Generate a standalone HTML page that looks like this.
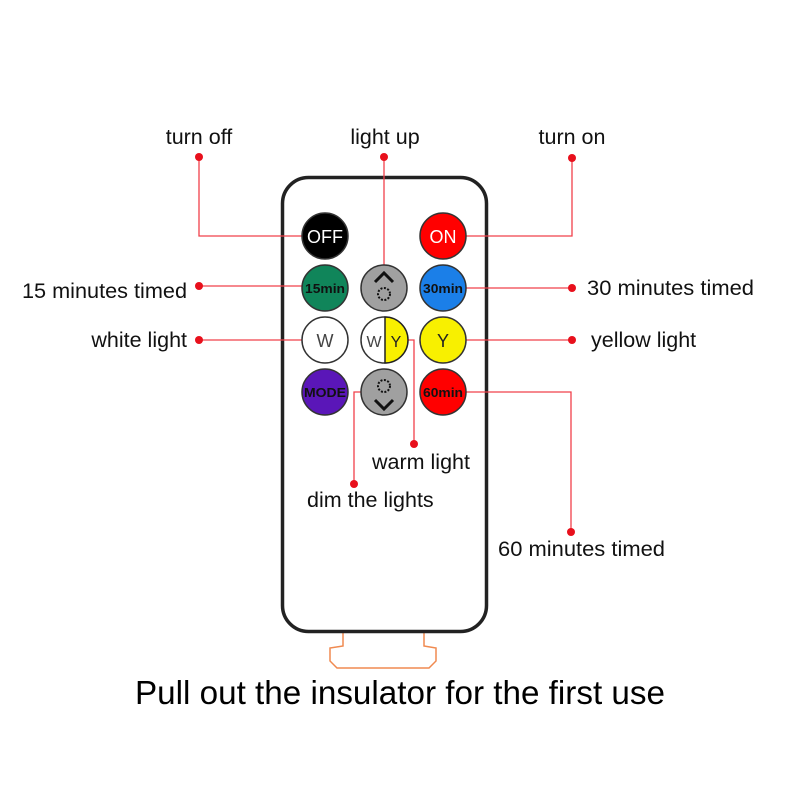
<!DOCTYPE html>
<html><head><meta charset="utf-8"><style>html,body{margin:0;padding:0;background:#fff}svg{display:block}</style></head>
<body>
<svg width="800" height="800" viewBox="0 0 800 800" xmlns="http://www.w3.org/2000/svg" font-family="Liberation Sans, sans-serif">
<rect width="800" height="800" fill="#fff"/>
<!-- insulator -->
<path d="M343,632 L343,646 L330,648 L330,661 L337,668 L429,668 L436,661 L436,648 L424,646 L424,632" fill="none" stroke="#f08a50" stroke-width="1.5"/>
<!-- remote -->
<rect x="282.5" y="177.5" width="204" height="454" rx="26" fill="#fff" stroke="#222" stroke-width="3.5"/>
<!-- connectors -->
<g stroke="#f0404a" stroke-width="1.3" fill="none">
<path d="M199,157 V236 H302"/>
<path d="M384,157 V265"/>
<path d="M572,158 V236 H466"/>
<path d="M199,286 H302"/>
<path d="M572,288 H466"/>
<path d="M199,340 H302"/>
<path d="M572,340 H466"/>
<path d="M407,340 H414 V444"/>
<path d="M361,392 H354 V484"/>
<path d="M466,392 H571 V532"/>
</g>
<g fill="#e8101c">
<circle cx="199" cy="157" r="4"/><circle cx="384" cy="157" r="4"/><circle cx="572" cy="158" r="4"/>
<circle cx="199" cy="286" r="4"/><circle cx="572" cy="288" r="4"/>
<circle cx="199" cy="340" r="4"/><circle cx="572" cy="340" r="4"/>
<circle cx="414" cy="444" r="4"/><circle cx="354" cy="484" r="4"/><circle cx="571" cy="532" r="4"/>
</g>
<!-- buttons -->
<g stroke="#333" stroke-width="1.5">
<circle cx="325" cy="236" r="23" fill="#000"/>
<circle cx="443" cy="236" r="23" fill="#f00"/>
<circle cx="325" cy="288" r="23" fill="#10855a"/>
<circle cx="384" cy="288" r="23" fill="#a0a0a0"/>
<circle cx="443" cy="288" r="23" fill="#1b7fe8"/>
<circle cx="325" cy="340" r="23" fill="#fff"/>
<circle cx="384" cy="340" r="23" fill="#fff"/>
<circle cx="443" cy="340" r="23" fill="#f8f000"/>
<circle cx="325" cy="392" r="23" fill="#5a16b8"/>
<circle cx="384" cy="392" r="23" fill="#a0a0a0"/>
<circle cx="443" cy="392" r="23" fill="#f00"/>
</g>
<path d="M385,317 A23,23 0 0 1 385,363 Z" fill="#f8f000" stroke="#222" stroke-width="1.5"/>
<g font-size="18" text-anchor="middle">
<text x="325" y="243" fill="#fff">OFF</text>
<text x="443" y="243" fill="#fff">ON</text>
<text x="325" y="347" fill="#444">W</text>
<text x="374" y="347" fill="#444" font-size="16">W</text>
<text x="396" y="347" fill="#222" font-size="16">Y</text>
<text x="443" y="347" fill="#222">Y</text>
</g>
<g font-size="13" text-anchor="middle" fill="#111" font-weight="bold">
<text x="325" y="293" textLength="40" lengthAdjust="spacingAndGlyphs">15min</text>
<text x="443" y="293" textLength="40" lengthAdjust="spacingAndGlyphs">30min</text>
<text x="443" y="397" textLength="40" lengthAdjust="spacingAndGlyphs">60min</text>
<text x="325" y="397" textLength="42" lengthAdjust="spacingAndGlyphs">MODE</text>
</g>
<!-- arrows / sun -->
<path d="M375,282 L384,273 L393,282" fill="none" stroke="#111" stroke-width="3"/>
<circle cx="384" cy="294" r="6" fill="none" stroke="#111" stroke-width="2" stroke-dasharray="2 1.5"/>
<circle cx="384" cy="386" r="6" fill="none" stroke="#111" stroke-width="2" stroke-dasharray="2 1.5"/>
<path d="M375,400 L384,409 L393,400" fill="none" stroke="#111" stroke-width="3"/>
<!-- labels -->
<g font-size="21.5" fill="#111">
<text x="199" y="144" text-anchor="middle">turn off</text>
<text x="385" y="144" text-anchor="middle">light up</text>
<text x="572" y="144" text-anchor="middle">turn on</text>
<text x="187" y="298" text-anchor="end" textLength="165" lengthAdjust="spacingAndGlyphs">15 minutes timed</text>
<text x="187" y="347" text-anchor="end">white light</text>
<text x="587" y="295" textLength="167" lengthAdjust="spacingAndGlyphs">30 minutes timed</text>
<text x="591" y="347">yellow light</text>
<text x="372" y="469">warm light</text>
<text x="307" y="507">dim the lights</text>
<text x="498" y="556" textLength="167" lengthAdjust="spacingAndGlyphs">60 minutes timed</text>
</g>
<text x="135" y="704" font-size="33" fill="#000" textLength="530" lengthAdjust="spacingAndGlyphs">Pull out the insulator for the first use</text>
</svg>
</body></html>
